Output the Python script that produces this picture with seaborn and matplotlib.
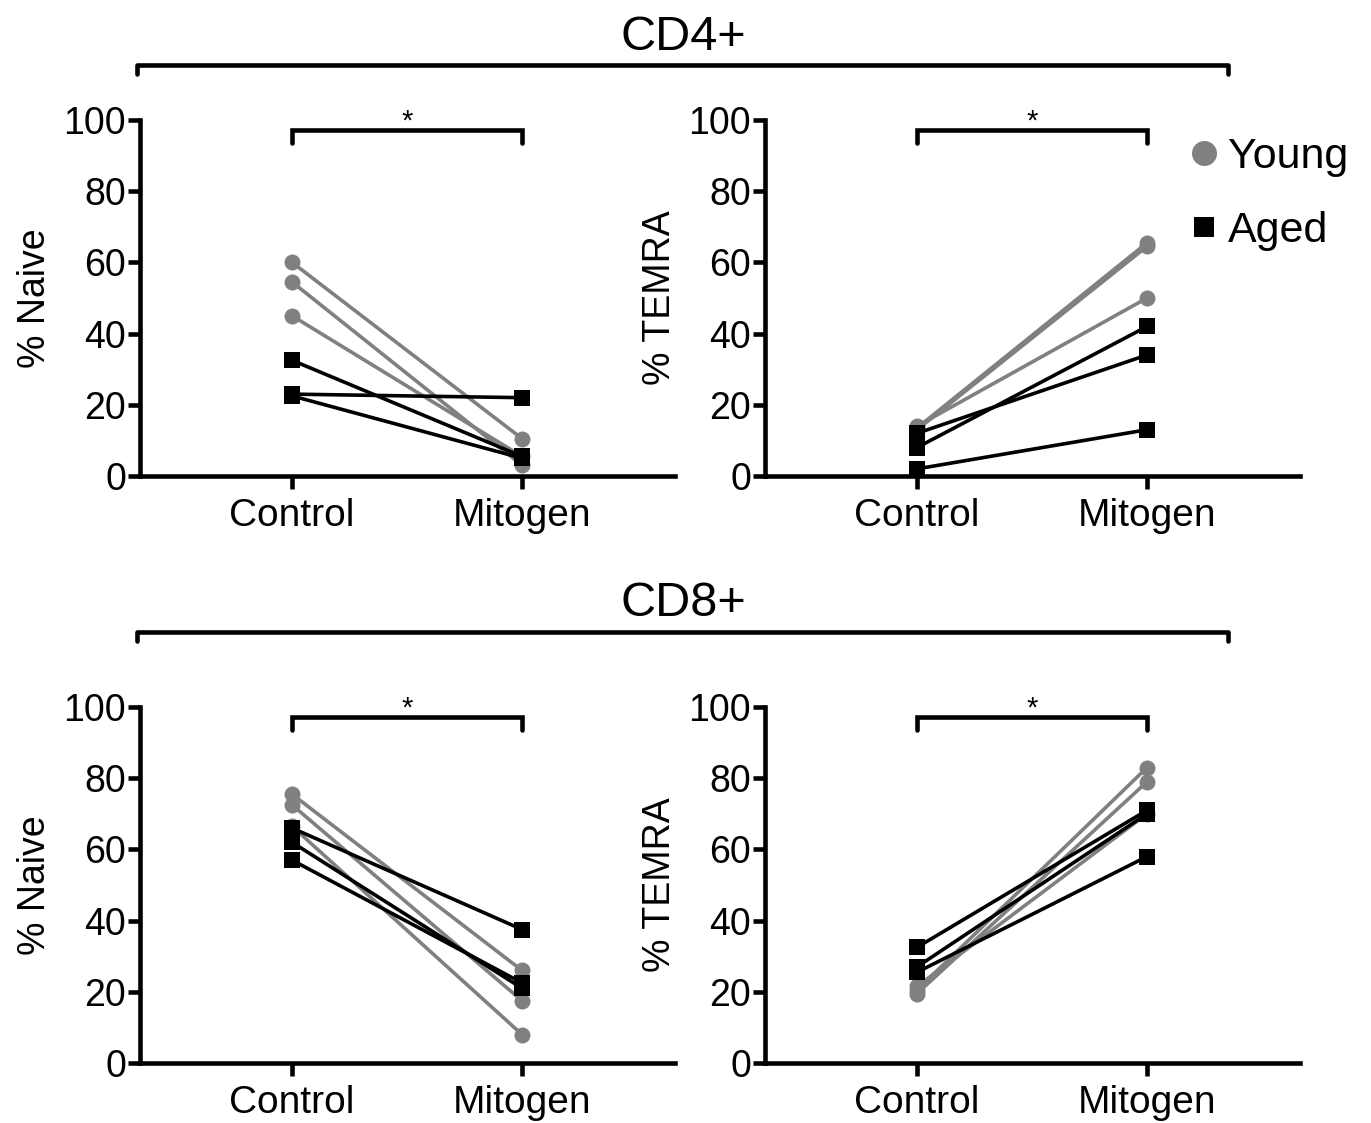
import numpy as np
import pandas as pd
import matplotlib
matplotlib.use("Agg")
import matplotlib.pyplot as plt
from matplotlib.lines import Line2D
import seaborn as sns

# ---------------- data ----------------
conditions = ["Control", "Mitogen"]
groups = ["Young", "Aged"]

# CD4+ % Naive
cd4_naive_young_control = [60, 54.5, 45]
cd4_naive_young_mitogen = [10.5, 3, 5.5]
cd4_naive_aged_control = [32.5, 23, 22.5]
cd4_naive_aged_mitogen = [5.5, 22, 5]

# CD4+ % TEMRA
cd4_temra_young_control = [13.5, 13, 14]
cd4_temra_young_mitogen = [65.5, 64.5, 50]
cd4_temra_aged_control = [12, 8, 2]
cd4_temra_aged_mitogen = [34, 42, 13]

# CD8+ % Naive
cd8_naive_young_control = [75.5, 72.5, 66.5]
cd8_naive_young_mitogen = [26, 17.5, 8]
cd8_naive_aged_control = [66, 62, 57]
cd8_naive_aged_mitogen = [37.5, 21, 22.5]

# CD8+ % TEMRA
cd8_temra_young_control = [20.5, 19.5, 21.5]
cd8_temra_young_mitogen = [83, 79, 70]
cd8_temra_aged_control = [32.5, 27, 25.5]
cd8_temra_aged_mitogen = [71, 70, 58]

y_ticks = [0, 20, 40, 60, 80, 100]
section_titles = ["CD4+", "CD8+"]
y_labels = ["% Naive", "% TEMRA"]
significance = "*"

colors = {"Young": "#808080", "Aged": "#000000"}
markers = {"Young": "o", "Aged": "s"}


def make_df(yc, ym, ac, am):
    rows = []
    for i, (c, m) in enumerate(zip(yc, ym)):
        rows.append(("Y%d" % i, "Young", "Control", c))
        rows.append(("Y%d" % i, "Young", "Mitogen", m))
    for i, (c, m) in enumerate(zip(ac, am)):
        rows.append(("A%d" % i, "Aged", "Control", c))
        rows.append(("A%d" % i, "Aged", "Mitogen", m))
    return pd.DataFrame(rows, columns=["subject", "group", "condition", "value"])


panels = [
    (make_df(cd4_naive_young_control, cd4_naive_young_mitogen, cd4_naive_aged_control, cd4_naive_aged_mitogen), y_labels[0]),
    (make_df(cd4_temra_young_control, cd4_temra_young_mitogen, cd4_temra_aged_control, cd4_temra_aged_mitogen), y_labels[1]),
    (make_df(cd8_naive_young_control, cd8_naive_young_mitogen, cd8_naive_aged_control, cd8_naive_aged_mitogen), y_labels[0]),
    (make_df(cd8_temra_young_control, cd8_temra_young_mitogen, cd8_temra_aged_control, cd8_temra_aged_mitogen), y_labels[1]),
]

# ---------------- style ----------------
sns.set_style("ticks")
plt.rcParams["font.family"] = ["Liberation Sans", "DejaVu Sans"]
for key in ["text.color", "axes.labelcolor", "xtick.color", "ytick.color", "axes.edgecolor"]:
    plt.rcParams[key] = "black"

W, H = 1371, 1123
fig = plt.figure(figsize=(W / 100, H / 100), dpi=100)

def px_rect(x0, x1, ytop, ybot):
    return [x0 / W, 1 - ybot / H, (x1 - x0) / W, (ybot - ytop) / H]

rects = [
    px_rect(140, 675, 120, 476),
    px_rect(765, 1300, 120, 476),
    px_rect(140, 675, 707, 1063),
    px_rect(765, 1300, 707, 1063),
]

for (df, ylab), rect in zip(panels, rects):
    ax = fig.add_axes(rect)
    sns.lineplot(
        data=df, x="condition", y="value", hue="group", style="group",
        units="subject", estimator=None, sort=False,
        hue_order=groups, style_order=groups,
        palette=colors, markers=markers, dashes=False,
        linewidth=2.6, markersize=11.5, markeredgewidth=0,
        legend=False, ax=ax,
    )
    for ln in ax.lines:
        ln.set_clip_on(False)
    ax.set_xlim(-0.661, 1.665)
    ax.set_ylim(0, 100)
    ax.set_yticks(y_ticks)
    ax.set_xticks([0, 1])
    ax.set_xticklabels(conditions)
    ax.set_xlabel("")
    ax.set_ylabel(ylab, fontsize=27)
    ax.yaxis.set_label_coords(-0.162, 0.5)
    sns.despine(ax=ax)
    for s in ["left", "bottom"]:
        ax.spines[s].set_linewidth(3.3)
        ax.spines[s].set_capstyle("projecting")
    ax.tick_params(axis="y", length=9, width=3.3, labelsize=27, pad=1)
    ax.tick_params(axis="x", length=9, width=3.3, labelsize=28, pad=7)
    # significance bracket
    ax.plot([0, 0, 1, 1], [93.5, 97.2, 97.2, 93.5], color="black", lw=3.3,
            clip_on=False, solid_capstyle="round", solid_joinstyle="miter")
    ax.text(0.5, 95.5, significance, ha="center", va="bottom", fontsize=21)

# section brackets and titles
for title, yline, ytext in [(section_titles[0], 65, 38), (section_titles[1], 632, 603)]:
    yl = 1 - yline / H
    yt = 1 - (yline + 9) / H
    fig.add_artist(Line2D([137 / W, 137 / W, 1228 / W, 1228 / W], [yt, yl, yl, yt],
                          color="black", lw=3.3, solid_capstyle="round",
                          transform=fig.transFigure))
    fig.text(683 / W, 1 - ytext / H, title, ha="center", va="center", fontsize=35)

# legend
handles = [
    Line2D([], [], linestyle="none", marker="o", markersize=18, color=colors["Young"], markeredgewidth=0),
    Line2D([], [], linestyle="none", marker="s", markersize=14, color=colors["Aged"], markeredgewidth=0),
]
fig.legend(handles, groups, loc="upper left", bbox_to_anchor=(1191 / W, 1 - 137 / H),
           frameon=False, fontsize=31, handlelength=0.6, handletextpad=0.25,
           labelspacing=0.8, borderpad=0, borderaxespad=0)

fig.savefig("out.png", dpi=100)
